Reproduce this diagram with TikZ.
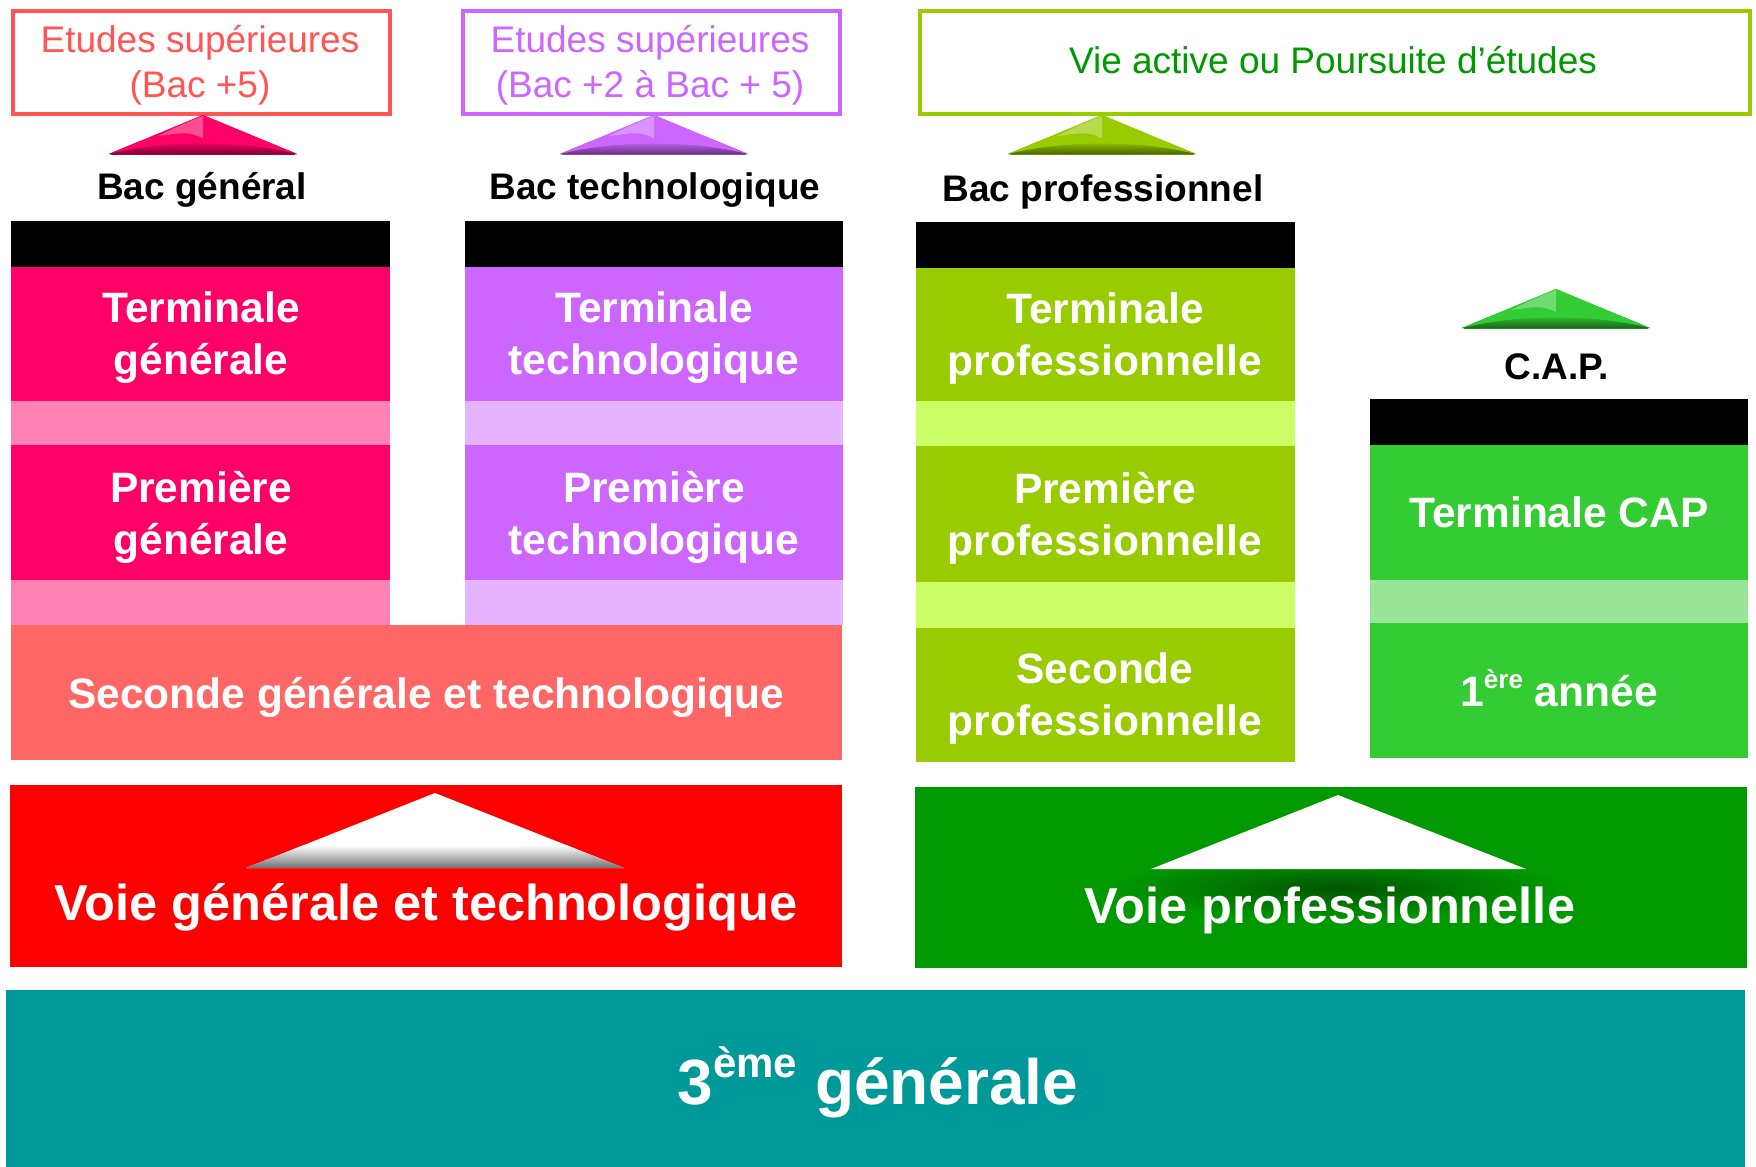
\documentclass[tikz,border=0pt]{standalone}
\usepackage{fontspec}
\setmainfont{Liberation Sans}
\definecolor{rougecadre}{HTML}{FF5555}
\definecolor{violetcadre}{HTML}{CC66FF}
\definecolor{vertcadre}{HTML}{99CC00}
\definecolor{verttexte}{HTML}{009900}
\definecolor{rosefonce}{HTML}{FF0066}
\definecolor{roseclair}{HTML}{FF82B4}
\definecolor{violetfonce}{HTML}{CC66FF}
\definecolor{violetclair}{HTML}{E5B3FF}
\definecolor{saumon}{HTML}{FF6666}
\definecolor{anisfonce}{HTML}{99CC00}
\definecolor{anisclair}{HTML}{CCFF66}
\definecolor{vertcap}{HTML}{33CC33}
\definecolor{vertcapclair}{HTML}{99E699}
\definecolor{rougevoie}{HTML}{FF0000}
\definecolor{vertvoie}{HTML}{009900}
\definecolor{bleucanard}{HTML}{009999}
\newcommand\expo[2]{\raisebox{0.42em}{\fontsize{#1}{#1}\selectfont #2}}
\newcommand\pyramide[3]{%
  \fill[#3] (#1-94,#2) -- (#1,#2-39) -- (#1+94,#2) -- cycle;
  \begin{scope}
  \clip (#1-94,#2) -- (#1,#2-39) -- (#1+94,#2) -- cycle;
  \shade[top color=#3, bottom color=#3!50!black] (#1-94,#2-13) rectangle (#1+94,#2);
  \fill[#3] (#1-94,#2) .. controls (#1-40,#2-14) and (#1+40,#2-14) .. (#1+94,#2) -- (#1,#2-39) -- cycle;
  \fill[white, opacity=.3] (#1,#2-38) .. controls (#1-20,#2-30) .. (#1-45,#2-18) .. controls (#1-15,#2-22) .. (#1,#2-16) -- cycle;
  \end{scope}
  \draw[#3!70!black, line width=1pt] (#1-92,#2) -- (#1+92,#2);}
\tikzset{
  bloc/.style={anchor=north west, inner sep=0pt, outer sep=0pt},
  texte/.style={text=white, align=center, font=\bfseries\fontsize{42.5}{52}\selectfont},
  cadre/.style={anchor=north west, inner sep=0pt, line width=4pt, fill=white},
  cadretexte/.style={align=center, font=\fontsize{37}{45}\selectfont},
  bac/.style={font=\bfseries\fontsize{37}{40}\selectfont, text=black},
  voie/.style={text=white, font=\bfseries\fontsize{50.5}{60}\selectfont},
}
\begin{document}
\begin{tikzpicture}[x=1pt, y=-1pt]
\useasboundingbox (0,0) rectangle (1756,1167);

% debouches
\node[cadre, draw=rougecadre, minimum width=377pt, minimum height=103pt] (supa) at (11,9) {};
\node[cadre, draw=violetcadre, minimum width=377pt, minimum height=103pt] (supb) at (461,9) {};
\node[cadre, draw=vertcadre, minimum width=830pt, minimum height=103pt] (vie) at (918,9) {};
\node[cadretexte, text=rougecadre] (tsupa) at (200,65) {Etudes supérieures\\(Bac +5)};
\node[cadretexte, text=violetcadre] (tsupb) at (650,65) {Etudes supérieures\\(Bac +2 à Bac + 5)};
\node[cadretexte, text=verttexte] (tvie) at (1333,60) {Vie active ou Poursuite d’études};

\pyramide{203}{154}{rosefonce}
\pyramide{654}{154}{violetfonce}
\pyramide{1102}{154}{anisfonce}
\pyramide{1556}{328}{vertcap}

\node[bac] (bacg) at (202,190) {Bac général};
\node[bac] (bact) at (655,190) {Bac technologique};
\node[bac] (bacp) at (1103,192) {Bac professionnel};
\node[bac] (cap) at (1557,367) {C.A.P.};

% voie generale
\node[bloc, fill=black, minimum width=379pt, minimum height=46pt] (ng) at (11,221) {};
\node[bloc, fill=rosefonce, minimum width=379pt, minimum height=134pt] (tg) at (11,267) {};
\node[bloc, fill=roseclair, minimum width=379pt, minimum height=44pt] (rg1) at (11,401) {};
\node[bloc, fill=rosefonce, minimum width=379pt, minimum height=135pt] (pg) at (11,445) {};
\node[bloc, fill=roseclair, minimum width=379pt, minimum height=45pt] (rg2) at (11,580) {};
\node[texte] (ttg) at (201,338) {Terminale\\générale};
\node[texte] (tpg) at (201,517) {Première\\générale};

% voie technologique
\node[bloc, fill=black, minimum width=378pt, minimum height=46pt] (nt) at (465,221) {};
\node[bloc, fill=violetfonce, minimum width=378pt, minimum height=134pt] (tt) at (465,267) {};
\node[bloc, fill=violetclair, minimum width=378pt, minimum height=44pt] (rt1) at (465,401) {};
\node[bloc, fill=violetfonce, minimum width=378pt, minimum height=135pt] (pt) at (465,445) {};
\node[bloc, fill=violetclair, minimum width=378pt, minimum height=45pt] (rt2) at (465,580) {};
\node[texte] (ttt) at (654,338) {Terminale\\technologique};
\node[texte] (tpt) at (654,517) {Première\\technologique};

\node[bloc, fill=saumon, minimum width=831pt, minimum height=135pt] (sgt) at (11,625) {};
\node[texte] (tsgt) at (426,697) {Seconde générale et technologique};

% voie professionnelle
\node[bloc, fill=black, minimum width=379pt, minimum height=46pt] (np) at (916,222) {};
\node[bloc, fill=anisfonce, minimum width=379pt, minimum height=133pt] (tp) at (916,268) {};
\node[bloc, fill=anisclair, minimum width=379pt, minimum height=45pt] (rp1) at (916,401) {};
\node[bloc, fill=anisfonce, minimum width=379pt, minimum height=136pt] (pp) at (916,446) {};
\node[bloc, fill=anisclair, minimum width=379pt, minimum height=46pt] (rp2) at (916,582) {};
\node[bloc, fill=anisfonce, minimum width=379pt, minimum height=134pt] (sp) at (916,628) {};
\node[texte] (ttp) at (1105,339) {Terminale\\professionnelle};
\node[texte] (tpp) at (1105,518) {Première\\professionnelle};
\node[texte] (tsp) at (1105,699) {Seconde\\professionnelle};

% cap
\node[bloc, fill=black, minimum width=378pt, minimum height=46pt] (nc) at (1370,399) {};
\node[bloc, fill=vertcap, minimum width=378pt, minimum height=135pt] (tc) at (1370,445) {};
\node[bloc, fill=vertcapclair, minimum width=378pt, minimum height=43pt] (rc) at (1370,580) {};
\node[bloc, fill=vertcap, minimum width=378pt, minimum height=135pt] (ac) at (1370,623) {};
\node[texte] (ttc) at (1559,512) {Terminale CAP};
\node[texte] (tac) at (1559,688) {1\expo{26}{ère} année};

% les deux voies
\node[bloc, fill=rougevoie, minimum width=832pt, minimum height=182pt] (vgt) at (10,785) {};
\fill[white] (246,868) -- (435,793) -- (624,868) -- cycle;
\begin{scope}
\clip (246,868) -- (435,793) -- (624,868) -- cycle;
\shade[top color=white, bottom color=black!55] (240,845) rectangle (630,868);
\end{scope}
\node[voie] (lgt) at (426,907) {Voie générale et technologique};

\node[bloc, fill=vertvoie, minimum width=832pt, minimum height=181pt] (vpro) at (915,787) {};
\shade[inner color=vertvoie!55!black, outer color=vertvoie] (1338,888) ellipse (230pt and 32pt);
\fill[white] (1151,869) -- (1338,795) -- (1526,869) -- cycle;
\node[voie] (lpro) at (1330,910) {Voie professionnelle};

% troisieme
\node[bloc, fill=bleucanard, minimum width=1739pt, minimum height=177pt] (trois) at (6,990) {};
\node[texte, font=\bfseries\fontsize{64}{70}\selectfont] (ttrois) at (878,1082) {3\expo{42}{ème} générale};
\end{tikzpicture}
\end{document}
